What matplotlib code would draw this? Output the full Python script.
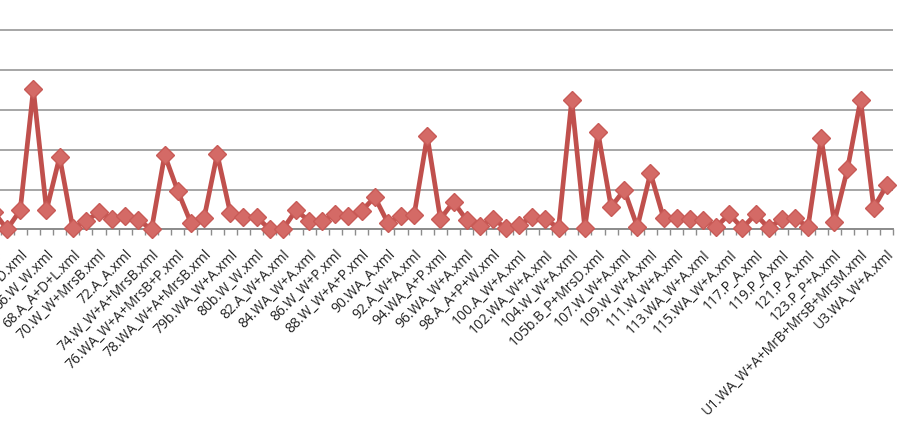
import matplotlib
matplotlib.use("Agg")
import matplotlib.pyplot as plt
from matplotlib.ticker import FixedLocator, NullFormatter

# category names (only every other one is shown on the axis)
LABELS = [
    "62.A_A.xml", "63.A_A.xml", "64.A_A+D.xml", "65.W_W.xml", "66.W_W.xml",
    "67.A_A.xml", "68.A_A+D+L.xml", "69.W_W.xml", "70.W_W+MrsB.xml", "71.A_A.xml",
    "72.A_A.xml", "73.W_W.xml", "74.W_W+A+MrsB.xml", "75.WA_W+A.xml",
    "76.WA_W+A+MrsB+P.xml", "77.WA_W+A.xml", "78.WA_W+A+MrsB.xml", "79.WA_W+A.xml",
    "79b.WA_W+A.xml", "80.W_W.xml", "80b.W_W.xml", "81.A_W+A.xml", "82.A_W+A.xml",
    "83.WA_W+A.xml", "84.WA_W+A.xml", "85.W_W+P.xml", "86.W_W+P.xml",
    "87.W_W+A+P.xml", "88.W_W+A+P.xml", "89.WA_A.xml", "90.WA_A.xml",
    "91.A_W+A.xml", "92.A_W+A.xml", "93.WA_A+P.xml", "94.WA_A+P.xml",
    "95.WA_W+A.xml", "96.WA_W+A.xml", "97.A_A+P+W.xml", "98.A_A+P+W.xml",
    "99.A_W+A.xml", "100.A_W+A.xml", "101.WA_W+A.xml", "102.WA_W+A.xml",
    "103.W_W+A.xml", "104.W_W+A.xml", "105.B_P+MrsD.xml", "105b.B_P+MrsD.xml",
    "106.W_W+A.xml", "107.W_W+A.xml", "108.W_W+A.xml", "109.W_W+A.xml",
    "110.W_W+A.xml", "111.W_W+A.xml", "112.WA_W+A.xml", "113.WA_W+A.xml",
    "114.WA_W+A.xml", "115.WA_W+A.xml", "116.P_A.xml", "117.P_A.xml",
    "118.P_A.xml", "119.P_A.xml", "120.P_A.xml", "121.P_A.xml",
    "122.P_P+A.xml", "123.P_P+A.xml", "U1.WA_W+A.xml",
    "U1.WA_W+A+MrB+MrsB+MrsM.xml", "U2.WA_W+A.xml", "U3.WA_W+A.xml",
]

VALUES = [
    4.3, 0.0, 4.8, 35.2, 4.8, 18.2, 0.3, 2.1, 4.3, 2.6,
    3.3, 2.3, 0.0, 18.7, 9.6, 1.6, 2.8, 18.9, 4.1, 3.1,
    3.1, 0.0, 0.0, 4.8, 2.1, 2.1, 3.8, 3.3, 4.6, 8.1,
    1.6, 3.3, 3.6, 23.4, 2.6, 6.9, 2.3, 0.8, 2.6, 0.3,
    1.1, 3.1, 2.6, 0.3, 32.5, 0.3, 24.4, 5.6, 9.9, 0.6,
    14.1, 2.8, 2.8, 2.6, 2.3, 0.6, 3.8, 0.3, 3.8, 0.3,
    2.6, 2.8, 0.6, 22.9, 1.8, 15.1, 32.5, 5.4, 11.1,
]

LINE_COLOR = "#C0504D"
MARKER_COLOR = "#D46A66"
GRID_COLOR = "#A6A6A6"

fig = plt.figure(figsize=(8.99, 4.24), dpi=100)
# plot area is cropped on the left and top like the reference screenshot
ax = fig.add_axes([-12.6 / 899, 194.7 / 424, 906 / 899, 238.8 / 424])

x = list(range(len(VALUES)))
ax.plot(x, VALUES, color=LINE_COLOR, linewidth=3.4, marker="D",
        markersize=9.5, markerfacecolor=MARKER_COLOR,
        markeredgecolor="#C85A56", markeredgewidth=1, zorder=3, clip_on=False)

ax.set_xlim(-0.5, len(VALUES) - 0.5)
ax.set_ylim(0, 60)
ax.set_yticks(range(0, 61, 10))
ax.yaxis.grid(True, color=GRID_COLOR, linewidth=1.4)
ax.set_axisbelow(True)

for side in ["top", "right", "left"]:
    ax.spines[side].set_visible(False)
ax.spines["bottom"].set_color("#8C8C8C")
ax.spines["bottom"].set_linewidth(1.4)
ax.tick_params(axis="y", left=False, labelleft=False)

shown = list(range(0, len(VALUES), 2))
ax.set_xticks(shown)
ax.set_xticklabels([LABELS[i] for i in shown], rotation=45, ha="right",
                   va="top", rotation_mode="anchor",
                   fontsize=10, family="Open Sans", color="#222222")
ax.tick_params(axis="x", which="major", length=0, pad=13)
ax.xaxis.set_minor_locator(FixedLocator([i + 0.5 for i in range(-1, len(VALUES))]))
ax.xaxis.set_minor_formatter(NullFormatter())
ax.tick_params(axis="x", which="minor", length=4, width=1, color="#8C8C8C")

plt.savefig("out.png", dpi=100)
plt.close(fig)
